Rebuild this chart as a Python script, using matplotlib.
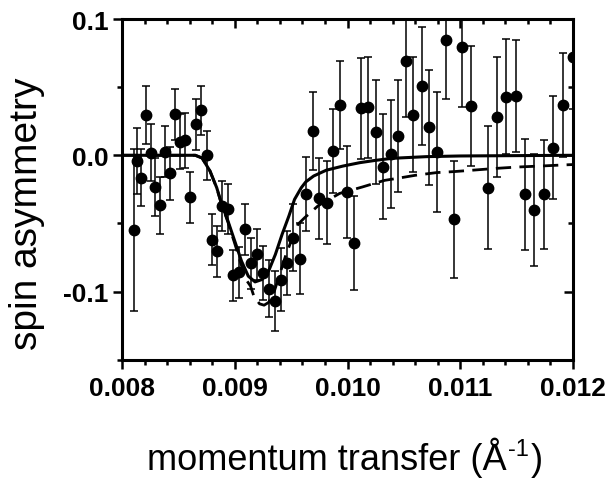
import matplotlib
matplotlib.use("Agg")
import matplotlib.pyplot as plt
from matplotlib.ticker import MultipleLocator

plt.rcParams['font.family'] = ['Liberation Sans', 'DejaVu Sans']

# measured spin asymmetry (momentum transfer, value, error)
q = [0.008106, 0.008130, 0.008168, 0.008213, 0.008254, 0.008293, 0.008337,
     0.008381, 0.008426, 0.008473, 0.008514, 0.008561, 0.008603, 0.008656,
     0.008698, 0.008750, 0.008795, 0.008840, 0.008890, 0.008943, 0.008987,
     0.009040, 0.009090, 0.009144, 0.009195, 0.009248, 0.009304, 0.009357,
     0.009410, 0.009466, 0.009519, 0.009579, 0.009632, 0.009691, 0.009750,
     0.009815, 0.009869, 0.009934, 0.009993, 0.010058, 0.010117, 0.010185,
     0.010250, 0.010318, 0.010383, 0.010445, 0.010516, 0.010584, 0.010658,
     0.010725, 0.010790, 0.010871, 0.010945, 0.011018, 0.011093, 0.011249,
     0.011329, 0.011406, 0.011492, 0.011574, 0.011657, 0.011743, 0.011826,
     0.011914, 0.011997]
asym = [-0.0550, -0.0042, -0.0164, 0.0296, 0.0020, -0.0233, -0.0368,
        0.0027, -0.0133, 0.0300, 0.0101, 0.0110, -0.0309, 0.0226,
        0.0330, 0.0000, -0.0618, -0.0706, -0.0373, -0.0397, -0.0882,
        -0.0858, -0.0544, -0.0794, -0.0728, -0.0863, -0.0980, -0.1066,
        -0.0912, -0.0789, -0.0605, -0.0760, -0.0282, 0.0179, -0.0316,
        -0.0348, 0.0032, 0.0370, -0.0270, -0.0642, 0.0346, 0.0353,
        0.0171, -0.0083, 0.0007, 0.0142, 0.0689, 0.0299, 0.0510,
        0.0204, 0.0024, 0.0848, -0.0470, 0.0796, 0.0363, -0.0238,
        0.0282, 0.0431, 0.0434, -0.0287, -0.0404, -0.0287, 0.0057,
        0.0370, 0.0723]
err = [0.0595, 0.0240, 0.0210, 0.0210, 0.0210, 0.0210, 0.0206,
       0.0190, 0.0196, 0.0190, 0.0200, 0.0200, 0.0190, 0.0186,
       0.0180, 0.0180, 0.0185, 0.0185, 0.0184, 0.0184, 0.0188,
       0.0188, 0.0190, 0.0190, 0.0190, 0.0200, 0.0210, 0.0220,
       0.0230, 0.0237, 0.0245, 0.0260, 0.0270, 0.0287, 0.0297,
       0.0306, 0.0310, 0.0324, 0.0336, 0.0346, 0.0370, 0.0370,
       0.0380, 0.0387, 0.0397, 0.0410, 0.0410, 0.0420, 0.0434,
       0.0420, 0.0440, 0.0436, 0.0430, 0.0440, 0.0440, 0.0450,
       0.0440, 0.0420, 0.0410, 0.0410, 0.0410, 0.0400, 0.0380,
       0.0380, 0.0380]

# model curves
fit1_q = [0.00800, 0.00865, 0.00871, 0.00878, 0.00884, 0.00888, 0.00894,
          0.00900, 0.00906, 0.00912, 0.00918, 0.00924, 0.00930, 0.00936,
          0.00942, 0.00948, 0.00953, 0.00959, 0.00963, 0.00970, 0.00981,
          0.00996, 0.01011, 0.01025, 0.01040, 0.01070, 0.01100, 0.01200]
fit1_a = [0.0, 0.0, -0.0020, -0.0115, -0.0238, -0.0348, -0.0483,
          -0.0630, -0.0777, -0.0887, -0.0929, -0.0912, -0.0850, -0.0728,
          -0.0580, -0.0446, -0.0324, -0.0238, -0.0195, -0.0152, -0.0110,
          -0.0079, -0.0054, -0.0037, -0.0022, -0.0010, -0.0005, 0.0]

fit2_q = [0.00800, 0.00865, 0.00871, 0.00878, 0.00884, 0.00888, 0.00894,
          0.00900, 0.00906, 0.00909, 0.00914, 0.00917, 0.00922, 0.00926,
          0.00930, 0.00935, 0.00940, 0.00945, 0.00950, 0.00956, 0.00962,
          0.00974, 0.00993, 0.01013, 0.01023, 0.01033, 0.01045, 0.01060,
          0.01079, 0.01094, 0.01113, 0.01132, 0.01151, 0.01171, 0.01191,
          0.01200]
fit2_a = [0.0, 0.0, -0.0020, -0.0115, -0.0240, -0.0352, -0.0492,
          -0.0648, -0.0810, -0.0900, -0.0960, -0.1035, -0.1090, -0.1100,
          -0.1080, -0.1000, -0.0870, -0.0740, -0.0630, -0.0507, -0.0458,
          -0.0370, -0.0280, -0.0233, -0.0208, -0.0184, -0.0168, -0.0147,
          -0.0127, -0.0120, -0.0108, -0.0096, -0.0086, -0.0079, -0.0071,
          -0.0068]

xticks = [0.008, 0.009, 0.010, 0.011, 0.012]
xticklabels = ['0.008', '0.009', '0.010', '0.011', '0.012']
yticks = [-0.1, 0.0, 0.1]
yticklabels = ['-0.1', '0.0', '0.1']

fig = plt.figure(figsize=(6.08, 4.81), dpi=100)
ax = fig.add_axes([0.2007, 0.2501, 0.7417, 0.7083])

ax.plot(fit2_q, fit2_a, color='black', lw=2.0, dashes=(5.5, 3))
ax.plot(fit1_q, fit1_a, color='black', lw=2.2)
ax.errorbar(q, asym, yerr=err, fmt='o', color='black', ms=7.5,
            elinewidth=1.1, capsize=3, capthick=1.1)

ax.set_xlim(0.008, 0.012)
ax.set_ylim(-0.15, 0.1)
ax.set_xticks(xticks)
ax.set_xticklabels(xticklabels)
ax.xaxis.set_minor_locator(MultipleLocator(0.0002))
ax.set_yticks(yticks)
ax.set_yticklabels(yticklabels)
ax.yaxis.set_minor_locator(MultipleLocator(0.05))

for s in ax.spines.values():
    s.set_linewidth(2.2)
ax.tick_params(which='both', direction='out', width=1.8, labelsize=19)
ax.tick_params(which='major', length=6.5)
ax.tick_params(which='minor', length=3.5)
ax.tick_params(axis='x', pad=5)
for lab in ax.get_xticklabels() + ax.get_yticklabels():
    lab.set_fontweight('bold')

# mirrored top and right ticks pointing in
top = ax.secondary_xaxis('top')
top.set_xticks(xticks)
top.xaxis.set_minor_locator(MultipleLocator(0.0002))
top.tick_params(which='both', direction='in', width=1.8, labeltop=False)
top.tick_params(which='major', length=6.5)
top.tick_params(which='minor', length=3.5)
right = ax.secondary_yaxis('right')
right.set_yticks(yticks)
right.yaxis.set_minor_locator(MultipleLocator(0.05))
right.tick_params(which='both', direction='in', width=1.8, labelright=False)
right.tick_params(which='major', length=6.5)
right.tick_params(which='minor', length=3.5)

# axis titles, the x one built in pieces so the exponent keeps a hyphen
t1 = fig.text(147 / 608, 1 - 470 / 481, 'momentum transfer (Å',
              fontsize=26, ha='left', va='baseline')
t2 = ax.annotate('-1', xy=(1, 0), xycoords=t1, xytext=(1, 12),
                 textcoords='offset points', fontsize=17,
                 ha='left', va='bottom', annotation_clip=False)
ax.annotate(')', xy=(1, 0), xycoords=(t2, t1), xytext=(1, 0),
            textcoords='offset points', fontsize=26,
            ha='left', va='bottom', annotation_clip=False)
fig.text(27 / 608, 1 - 214 / 481, 'spin asymmetry', fontsize=28,
         rotation=90, ha='center', va='center')

fig.savefig('out.png', dpi=100)
